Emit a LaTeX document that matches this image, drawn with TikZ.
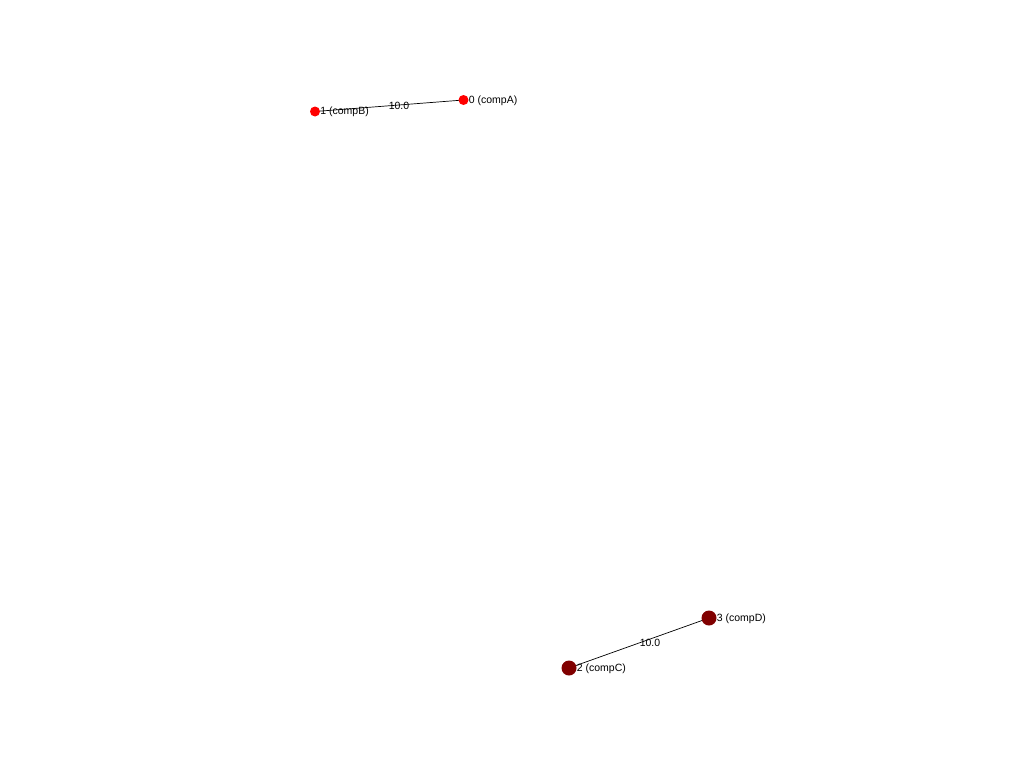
\documentclass[tikz,border=0pt]{standalone}
\usepackage{fontspec}
\setmainfont{Liberation Sans}
\definecolor{darkred}{RGB}{128,0,0}
\definecolor{brightred}{RGB}{255,0,0}
\begin{document}
\begin{tikzpicture}[x=1pt,y=-1pt,
  vert/.style={circle,inner sep=0pt,minimum size=#1},
  small/.style={vert=10pt,fill=brightred},
  big/.style={vert=15pt,fill=darkred},
  lbl/.style={anchor=west,inner sep=0pt,yshift=-0.7pt,font=\fontsize{10.5}{11}\selectfont},
  elbl/.style={inner sep=0pt,yshift=-0.7pt,font=\fontsize{10.5}{11}\selectfont},
  edge/.style={draw=black,line width=0.7pt}]
\useasboundingbox (0,0) rectangle (1024,768);
\fill[white] (0,0) rectangle (1024,768);
% edges first
\coordinate (p0) at (463.5,100);
\coordinate (p1) at (315,111.5);
\coordinate (p2) at (569,668);
\coordinate (p3) at (709,618);
\draw[edge] (p1) -- (p0);
\draw[edge] (p2) -- (p3);
\node[small] (n0) at (p0) {};
\node[small] (n1) at (p1) {};
\node[big] (n2) at (p2) {};
\node[big] (n3) at (p3) {};
\node[lbl] (l0) at (n0.east) {0 (compA)};
\node[lbl] (l1) at (n1.east) {1 (compB)};
\node[lbl] (l2) at (n2.east) {2 (compC)};
\node[lbl] (l3) at (n3.east) {3 (compD)};
\node[elbl] (e01) at (399,105) {10.0};
\node[elbl] (e23) at (650,642) {10.0};
\end{tikzpicture}
\end{document}
